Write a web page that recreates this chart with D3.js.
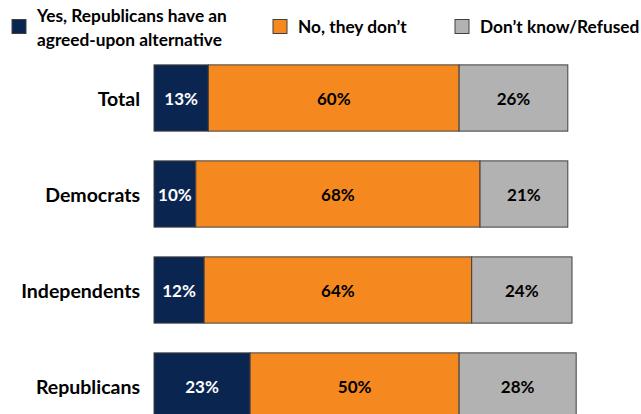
<!DOCTYPE html>
<html><head><meta charset="utf-8">
<script src="https://cdn.jsdelivr.net/npm/d3@7"></script>
<style>body{margin:0;background:#fff}svg{display:block}text{font-family:Lato,"Open Sans",sans-serif;font-weight:bold}</style>
</head><body>
<svg id="c" width="641" height="414"></svg>
<script>
const categories = ["Total", "Democrats", "Independents", "Republicans"];
const seriesNames = ["Yes, Republicans have an agreed-upon alternative", "No, they don\u2019t", "Don\u2019t know/Refused"];
const yesValues = [13, 10, 12, 23];
const noValues = [60, 68, 64, 50];
const dkValues = [26, 21, 24, 28];
const colors = ["#0a2550", "#f5891f", "#b2b2b2"];
const labelColors = ["#ffffff", "#000000", "#000000"];

const svg = d3.select("#c");
const x = d3.scaleLinear().domain([0, 100]).range([154, 572]);
const y = d3.scaleBand().domain(categories).range([50, 434]).paddingInner(0.31).paddingOuter(0.155);

const data = categories.map((c, i) => ({cat: c, v: [yesValues[i], noValues[i], dkValues[i]]}));
data.forEach(d => {
  let acc = 0;
  d.segs = d.v.map((v, k) => { const s = {k, v, x0: acc, x1: acc + v, cat: d.cat}; acc += v; return s; });
});

const g = svg.append("g");
const rows = g.selectAll("g.row").data(data).join("g").attr("class", "row");
rows.selectAll("rect").data(d => d.segs).join("rect")
  .attr("x", s => x(s.x0)).attr("width", s => x(s.x1) - x(s.x0))
  .attr("y", s => y(s.cat)).attr("height", y.bandwidth())
  .attr("fill", s => colors[s.k]).attr("stroke", "#404040").attr("stroke-width", 1);
rows.selectAll("text.val").data(d => d.segs).join("text").attr("class", "val")
  .attr("x", s => (x(s.x0) + x(s.x1)) / 2).attr("y", s => y(s.cat) + y.bandwidth() / 2)
  .attr("text-anchor", "middle").attr("dominant-baseline", "central")
  .attr("font-size", 17).attr("fill", s => labelColors[s.k]).text(s => s.v + "%");

g.selectAll("text.cat").data(categories).join("text").attr("class", "cat")
  .attr("x", 140).attr("y", c => y(c) + y.bandwidth() / 2)
  .attr("text-anchor", "end").attr("dominant-baseline", "central")
  .attr("font-size", 19.5).attr("fill", "#000").text(c => c);

// legend
const leg = svg.append("g");
const legItems = [
  {k: 0, sx: 12, tx: 37, lines: ["Yes, Republicans have an", "agreed-upon alternative"]},
  {k: 1, sx: 273, tx: 298, lines: [seriesNames[1]]},
  {k: 2, sx: 455, tx: 480, lines: [seriesNames[2]]}
];
legItems.forEach(it => {
  leg.append("rect").attr("x", it.sx).attr("y", 19.5).attr("width", 14).attr("height", 14)
    .attr("fill", colors[it.k]).attr("stroke", "#404040").attr("stroke-width", 1);
  const t = leg.append("text").attr("font-size", 17.3).attr("fill", "#000");
  if (it.lines.length === 1) {
    t.append("tspan").attr("x", it.tx).attr("y", 26).attr("dominant-baseline", "central").text(it.lines[0]);
  } else {
    it.lines.forEach((l, i) => t.append("tspan").attr("x", it.tx).attr("y", 15 + i * 24).attr("dominant-baseline", "central").text(l));
  }
});
</script>
</body></html>
